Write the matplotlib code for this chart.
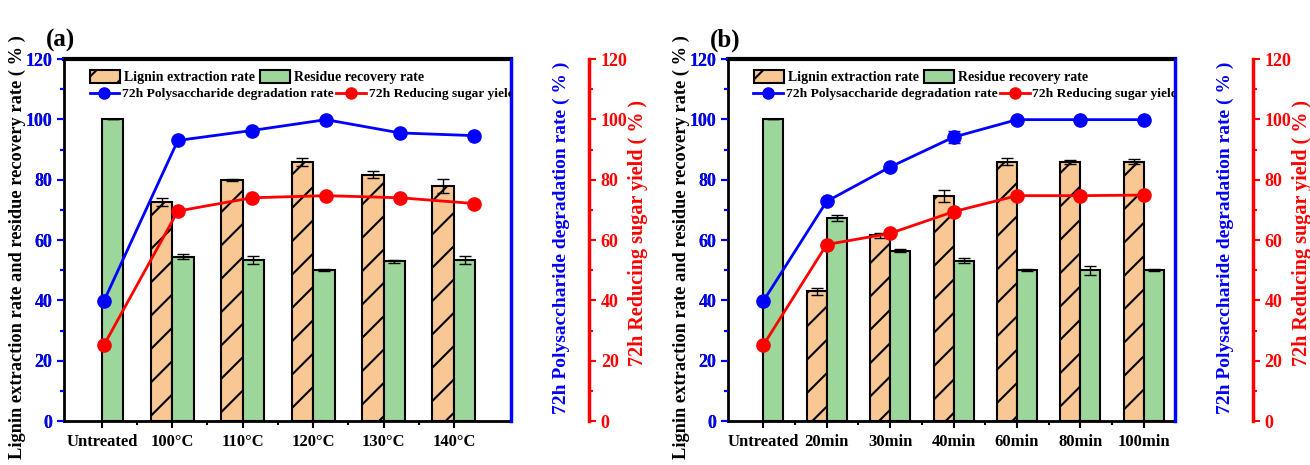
import numpy as np
import matplotlib
matplotlib.use('Agg')
import matplotlib.pyplot as plt
from matplotlib.patches import Patch
from matplotlib.lines import Line2D

plt.rcParams['font.family'] = ['Liberation Serif', 'DejaVu Serif']
plt.rcParams['font.weight'] = 'bold'
plt.rcParams['hatch.linewidth'] = 1.5

# datos panel (a): temperatura
cats_a = ['Untreated', '100°C', '110°C', '120°C', '130°C', '140°C']
lignin_a = [np.nan, 72.7, 79.8, 85.9, 81.7, 77.8]
lignin_err_a = [0, 1.3, 0.3, 1.3, 1.2, 2.3]
residue_a = [100, 54.5, 53.4, 50.0, 52.9, 53.3]
residue_err_a = [0, 0.8, 1.2, 0.4, 0.6, 1.3]
poly_a = [39.7, 93.0, 96.3, 99.9, 95.5, 94.6]
poly_err_a = [0, 0, 0, 0, 0, 0]
sugar_a = [25.1, 69.6, 74.0, 74.7, 74.0, 72.1]
sugar_err_a = [0, 0, 0, 0, 0, 0]

# datos panel (b): tiempo
cats_b = ['Untreated', '20min', '30min', '40min', '60min', '80min', '100min']
lignin_b = [np.nan, 43.0, 61.6, 74.6, 86.0, 85.8, 86.0]
lignin_err_b = [0, 1.2, 0.8, 2.1, 1.3, 0.6, 0.7]
residue_b = [100, 67.3, 56.5, 53.2, 50.0, 50.0, 50.0]
residue_err_b = [0, 1.0, 0.6, 0.8, 0.3, 1.5, 0.4]
poly_b = [39.7, 72.8, 84.2, 94.1, 99.9, 99.9, 99.9]
poly_err_b = [0, 0, 0, 2.1, 0, 0, 0]
sugar_b = [25.1, 58.5, 62.2, 69.4, 74.7, 74.7, 74.9]
sugar_err_b = [0, 0, 0, 1.0, 0, 0, 0]

C_LIG = '#F9C794'
C_RES = '#9DD69B'
C_BLUE = '#0000FF'
C_RED = '#FF0000'
FS = 12      # etiquetas de categorias
FS_Y = 13    # numeros de los ejes y
FS_LAB = 14  # titulos de ejes derechos


def panel(left, cats, lignin, lig_err, residue, res_err, poly, poly_err, sugar, sugar_err,
          xlim_bar, xlim_line, width, tag):
    pos = [left, 0.0946, 0.3412, 0.7785]
    x = np.arange(len(cats))

    ax = fig.add_axes(pos)  # capa de barras
    ax.bar(x - width / 2, lignin, width, color=C_LIG, edgecolor='k', linewidth=1.5, hatch='/')
    ax.bar(x + width / 2, residue, width, color=C_RES, edgecolor='k', linewidth=1.5)
    ax.errorbar(x - width / 2, lignin, yerr=lig_err, fmt='none', ecolor='k', elinewidth=1, capsize=4)
    ax.errorbar(x + width / 2, residue, yerr=res_err, fmt='none', ecolor='k', elinewidth=1, capsize=4)
    ax.set_xlim(*xlim_bar)
    ax.set_ylim(0, 120)
    ax.set_xticks(x)
    ax.set_xticklabels(cats, fontsize=FS, fontweight='bold')
    ax.set_xticks(x[:-1] + 0.5, minor=True)
    ax.set_yticks(np.arange(0, 121, 20))
    ax.set_yticks(np.arange(10, 120, 20), minor=True)
    ax.tick_params(axis='both', which='major', direction='out', length=5, width=1.5, labelsize=FS_Y)
    ax.tick_params(axis='x', labelsize=FS, pad=4)
    ax.tick_params(axis='both', which='minor', direction='out', length=3, width=1.5)
    for s in ax.spines.values():
        s.set_linewidth(2)
    ax.spines['top'].set_linewidth(3)
    ax.set_ylabel('Lignin extraction rate and residue recovery rate ( % )', fontsize=13.2, fontweight='bold')
    ax.yaxis.set_label_coords(-0.085, 0.48)
    ax.text(-0.04, 1.052, tag, transform=ax.transAxes, fontsize=18, fontweight='bold', va='center')

    # capa de lineas, con su propio eje x
    ax2 = fig.add_axes(pos, facecolor='none')
    ax2.errorbar(x, poly, yerr=poly_err, color=C_BLUE, lw=2, marker='o', ms=9.5, capsize=4, elinewidth=1)
    ax2.set_xlim(*xlim_line)
    ax2.set_ylim(0, 120)
    ax2.xaxis.set_visible(False)
    ax2.yaxis.tick_right()
    ax2.yaxis.set_label_position('right')
    for k in ['top', 'bottom', 'left']:
        ax2.spines[k].set_visible(False)
    ax2.spines['right'].set_color(C_BLUE)
    ax2.spines['right'].set_linewidth(2.5)
    ax2.set_yticks(np.arange(0, 121, 20))
    ax2.set_yticks(np.arange(10, 120, 20), minor=True)
    ax2.tick_params(axis='y', which='both', colors=C_BLUE, direction='out', width=1.5, labelsize=FS_Y)
    ax2.tick_params(axis='y', which='major', length=5)
    ax2.tick_params(axis='y', which='minor', length=3)
    ax2.set_ylabel('72h Polysaccharide degradation rate ( % )', color=C_BLUE, fontsize=FS_LAB, fontweight='bold')
    ax2.yaxis.set_label_coords(1.094, 0.505)

    ax3 = ax2.twinx()
    ax3.errorbar(x, sugar, yerr=sugar_err, color=C_RED, lw=2, marker='o', ms=9.5, capsize=4, elinewidth=1)
    ax3.set_ylim(0, 120)
    for k in ['top', 'bottom', 'left']:
        ax3.spines[k].set_visible(False)
    ax3.spines['right'].set_position(('axes', 1.1745))
    ax3.spines['right'].set_color(C_RED)
    ax3.spines['right'].set_linewidth(2.5)
    ax3.set_yticks(np.arange(0, 121, 20))
    ax3.set_yticks(np.arange(10, 120, 20), minor=True)
    ax3.tick_params(axis='y', which='both', colors=C_RED, direction='out', width=1.5, labelsize=FS_Y)
    ax3.tick_params(axis='y', which='major', length=5)
    ax3.tick_params(axis='y', which='minor', length=3)
    ax3.set_ylabel('72h Reducing sugar yield ( % )', color=C_RED, fontsize=14.5, fontweight='bold')
    ax3.yaxis.set_label_coords(1.262, 0.519)

    # leyendas: barras arriba, lineas abajo
    h_bar = [Patch(facecolor=C_LIG, edgecolor='k', hatch='/', linewidth=1.5),
             Patch(facecolor=C_RES, edgecolor='k', linewidth=1.5)]
    leg1 = ax3.legend(h_bar, ['Lignin extraction rate', 'Residue recovery rate'], ncol=2,
                      loc='upper left', bbox_to_anchor=(0.045, 0.985), frameon=False,
                      fontsize=10, handlelength=2.2, handleheight=1.1, columnspacing=0.3,
                      handletextpad=0.3, borderaxespad=0)
    ax3.add_artist(leg1)
    h_line = [Line2D([], [], color=C_BLUE, lw=2, marker='o', ms=8),
              Line2D([], [], color=C_RED, lw=2, marker='o', ms=8)]
    leg2 = ax3.legend(h_line, ['72h Polysaccharide degradation rate', '72h Reducing sugar yield'], ncol=2,
                      loc='upper left', bbox_to_anchor=(0.045, 0.935), frameon=False,
                      fontsize=9.7, handlelength=2.2, columnspacing=0.2, handletextpad=0.2,
                      borderaxespad=0)
    for t in leg2.get_texts():
        t.set_clip_box(ax.bbox)
        t.set_clip_on(True)


fig = plt.figure(figsize=(13.1, 4.65), dpi=100)

panel(0.0489, cats_a, lignin_a, lignin_err_a, residue_a, residue_err_a, poly_a, poly_err_a,
      sugar_a, sugar_err_a, (-0.536, 5.81), (-0.537, 5.50), 0.305, '(a)')
panel(0.5557, cats_b, lignin_b, lignin_err_b, residue_b, residue_err_b, poly_b, poly_err_b,
      sugar_b, sugar_err_b, (-0.556, 6.49), (-0.556, 6.49), 0.315, '(b)')

fig.savefig('out.png', dpi=100)
